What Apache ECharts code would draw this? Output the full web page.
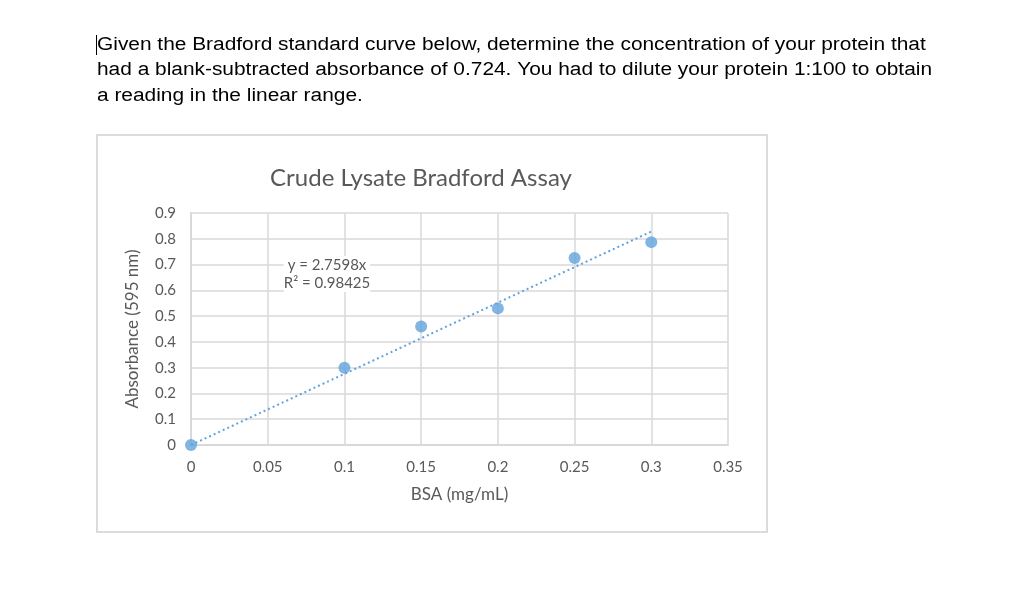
<!DOCTYPE html>
<html>
<head>
<meta charset="utf-8">
<style>
  html, body { margin: 0; padding: 0; background: #fff; }
  #main { width: 1024px; height: 596px; }
</style>
<script src="https://cdn.jsdelivr.net/npm/echarts@6/dist/echarts.min.js"></script>
</head>
<body>
<div id="main"></div>
<script>
// standard curve readings
const bsa = [0, 0.1, 0.15, 0.2, 0.25, 0.3]
const absorbance = [0, 0.30, 0.46, 0.53, 0.725, 0.787]
const slope = 2.7598
const rSquared = '0.98425'
const questionLines = [
  'Given the Bradford standard curve below, determine the concentration of your protein that',
  'had a blank-subtracted absorbance of 0.724. You had to dilute your protein 1:100 to obtain',
  'a reading in the linear range.'
]

const trend = [[0, 0], [bsa[bsa.length - 1], slope * bsa[bsa.length - 1]]]
const font = 'Lato, sans-serif'
const labelColor = '#595959'
const gridColor = '#d9d9d9'
const blue = '#62A3DC'

const chart = echarts.init(document.getElementById('main'))
chart.setOption({
  animation: false,
  textStyle: { fontFamily: font },
  title: {
    text: 'Crude Lysate Bradford Assay',
    left: 416,
    top: 161,
    textAlign: 'center',
    textStyle: { fontFamily: font, fontSize: 24, fontWeight: 'normal', color: labelColor }
  },
  grid: { left: 191, top: 213, width: 537, height: 232 },
  xAxis: {
    type: 'value',
    min: 0,
    max: 0.35,
    interval: 0.05,
    name: 'BSA (mg/mL)',
    nameLocation: 'middle',
    nameGap: 41,
    nameTextStyle: { fontFamily: font, fontSize: 17, color: labelColor },
    axisLine: { show: true, lineStyle: { color: gridColor, width: 2 } },
    axisTick: { show: false },
    axisLabel: { fontFamily: font, fontSize: 15, color: labelColor, margin: 15 },
    splitLine: { show: true, lineStyle: { color: gridColor, width: 1.5 } }
  },
  yAxis: {
    type: 'value',
    min: 0,
    max: 0.9,
    interval: 0.1,
    name: 'Absorbance (595 nm)',
    nameLocation: 'middle',
    nameGap: 50,
    nameTextStyle: { fontFamily: font, fontSize: 17, color: labelColor },
    axisLine: { show: true, lineStyle: { color: gridColor, width: 2 } },
    axisTick: { show: false },
    axisLabel: { fontFamily: font, fontSize: 15, color: labelColor, margin: 15 },
    splitLine: { show: true, lineStyle: { color: gridColor, width: 1.5 } }
  },
  series: [
    {
      type: 'line',
      data: trend,
      symbol: 'none',
      lineStyle: { color: blue, width: 2, type: [2, 3] },
      z: 2
    },
    {
      type: 'scatter',
      data: bsa.map((x, i) => [x, absorbance[i]]),
      symbolSize: 12,
      itemStyle: { color: blue },
      z: 3
    }
  ],
  graphic: [
    {
      type: 'rect',
      shape: { x: 97, y: 135, width: 670, height: 397 },
      style: { fill: 'none', stroke: '#dcdcdc', lineWidth: 2 },
      z: -1
    },
    {
      type: 'text',
      x: 327,
      y: 256,
      z: 10,
      style: {
        text: 'y = ' + slope + 'x\nR² = ' + rSquared,
        fontFamily: font,
        fontSize: 15,
        lineHeight: 18,
        fill: labelColor,
        align: 'center',
        backgroundColor: '#fff'
      }
    },
    {
      type: 'line',
      shape: { x1: 96.5, y1: 35, x2: 96.5, y2: 55 },
      style: { stroke: '#000', lineWidth: 1 }
    },
    ...questionLines.map((line, i) => ({
      type: 'text',
      x: 97,
      y: 36 + i * 25.5,
      scaleX: 1.16,
      style: {
        text: line,
        fontFamily: 'Liberation Sans',
        fontSize: 18,
        fill: '#000'
      }
    }))
  ]
})
</script>
</body>
</html>
